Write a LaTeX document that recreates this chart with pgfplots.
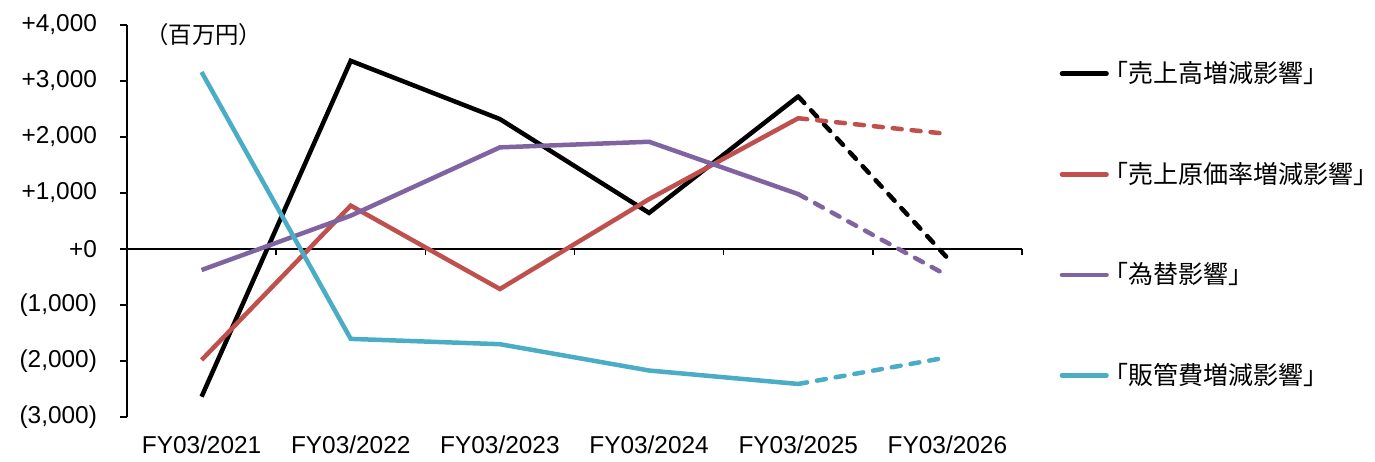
\documentclass[border=0pt]{standalone}
\usepackage{pgfplots}
\pgfplotsset{compat=1.18}
\usepackage{fontspec}
\setmainfont{Liberation Sans}
\newfontfamily\cjk{Noto Sans CJK JP}
\definecolor{cred}{HTML}{C0504D}
\definecolor{cpur}{HTML}{8064A2}
\definecolor{ccya}{HTML}{4BACC6}
\begin{document}
\begin{tikzpicture}
\begin{axis}[
  scale only axis, width=447.5pt, height=196pt,
  xmin=-0.5, xmax=5.5, ymin=-3000, ymax=4000,
  axis y line*=left, axis x line*=bottom,
  x axis line style={draw=none},
  y axis line style={line width=0.75pt},
  xtick={0,1,2,3,4,5},
  xticklabels={FY03/2021,FY03/2022,FY03/2023,FY03/2024,FY03/2025,FY03/2026},
  major x tick style={draw=none},
  xticklabel style={font=\fontsize{12.2}{14}\selectfont, yshift=-2.5pt},
  ytick={-3000,-2000,-1000,0,1000,2000,3000,4000},
  yticklabels={{(3,000)},{(2,000)},{(1,000)},{+0},{+1,000},{+2,000},{+3,000},{+4,000}},
  yticklabel style={font=\fontsize{12.2}{14}\selectfont, xshift=-8pt},
  major y tick style={line width=0.75pt, black},
  tick align=outside, major tick length=3.5pt,
  clip=false,
  legend style={draw=none, fill=none, at={(1.035,0.928)}, anchor=north west,
    row sep=34.2pt, font=\cjk\fontsize{12.5}{14}\selectfont,
    cells={anchor=west}, nodes={inner xsep=0pt}},
  legend cell align=left,
  legend image code/.code={\draw[#1, line cap=round] (0.6pt,0pt) -- (22.9pt,0pt);},
]
% zero line with ticks
\draw[black, line width=0.75pt] (axis cs:-0.5,0) -- (axis cs:5.5,0);
\draw[black, line width=0.75pt] (axis cs:-0.5,0) -- ([yshift=-3pt]axis cs:-0.5,0);
\draw[black, line width=0.75pt] (axis cs:0.5,0) -- ([yshift=-3pt]axis cs:0.5,0);
\draw[black, line width=0.75pt] (axis cs:1.5,0) -- ([yshift=-3pt]axis cs:1.5,0);
\draw[black, line width=0.75pt] (axis cs:2.5,0) -- ([yshift=-3pt]axis cs:2.5,0);
\draw[black, line width=0.75pt] (axis cs:3.5,0) -- ([yshift=-3pt]axis cs:3.5,0);
\draw[black, line width=0.75pt] (axis cs:4.5,0) -- ([yshift=-3pt]axis cs:4.5,0);
\draw[black, line width=0.75pt] (axis cs:5.5,0) -- ([yshift=-3pt]axis cs:5.5,0);

\addplot[black, line width=2.25pt, line join=miter] coordinates {(0,-2637) (1,3360) (2,2320) (3,645) (4,2725)};
\addlegendentry{\kern-0.2em「売上高増減影響」\kern-0.45em}
\addplot[cred, line width=2.25pt] coordinates {(0,-1982) (1,775) (2,-715) (3,890) (4,2335)};
\addlegendentry{\kern-0.2em「売上原価率増減影響」\kern-0.45em}
\addplot[cpur, line width=2.25pt] coordinates {(0,-375) (1,595) (2,1815) (3,1915) (4,980)};
\addlegendentry{\kern-0.2em「為替影響」\kern-0.45em}
\addplot[ccya, line width=2.25pt] coordinates {(0,3160) (1,-1605) (2,-1700) (3,-2170) (4,-2410)};
\addlegendentry{\kern-0.2em「販管費増減影響」\kern-0.45em}

\addplot[forget plot, black, line width=2.25pt, line cap=round, dash pattern=on 4.5pt off 5pt] coordinates {(4,2725) (5,-160)};
\addplot[forget plot, cred, line width=2.25pt, line cap=round, dash pattern=on 4.5pt off 5pt] coordinates {(4,2335) (5,2055)};
\addplot[forget plot, cpur, line width=2.25pt, line cap=round, dash pattern=on 4.5pt off 5pt] coordinates {(4,980) (5,-475)};
\addplot[forget plot, ccya, line width=2.25pt, line cap=round, dash pattern=on 4.5pt off 5pt] coordinates {(4,-2410) (5,-1935)};

\node[anchor=west, inner sep=0pt, font=\cjk\fontsize{11.7}{13}\selectfont] at (rel axis cs:0.02,0.975) {（百万円）};
\end{axis}
\pgfresetboundingbox
\path (-63.5pt,-22pt) rectangle (624pt,208.5pt);
\end{tikzpicture}
\end{document}
